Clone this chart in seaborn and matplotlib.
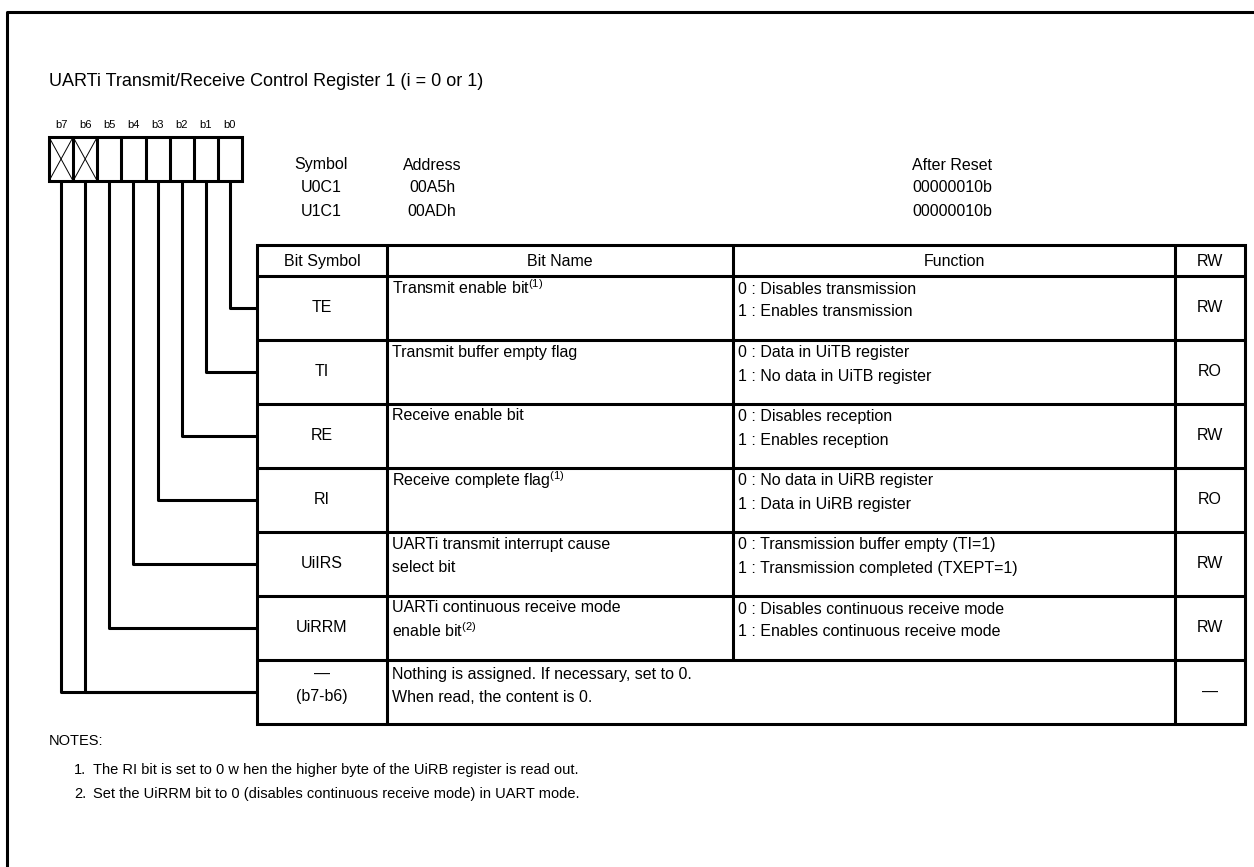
import seaborn as sns
import matplotlib.pyplot as plt

# register data
title = "UARTi Transmit/Receive Control Register 1 (i = 0 or 1)"
bit_labels = ["b7", "b6", "b5", "b4", "b3", "b2", "b1", "b0"]
reserved_bits = ["b7", "b6"]
symbols = ["U0C1", "U1C1"]
addresses = ["00A5h", "00ADh"]
after_reset = ["00000010b", "00000010b"]

header = ["Bit Symbol", "Bit Name", "Function", "RW"]
bit_symbols = ["TE", "TI", "RE", "RI", "UiIRS", "UiRRM"]
bit_names = [
    ["Transmit enable bit$^{\\mathrm{(1)}}$"],
    ["Transmit buffer empty flag"],
    ["Receive enable bit"],
    ["Receive complete flag$^{\\mathrm{(1)}}$"],
    ["UARTi transmit interrupt cause", "select bit"],
    ["UARTi continuous receive mode", "enable bit$^{\\mathrm{(2)}}$"],
]
functions = [
    ["0 : Disables transmission", "1 : Enables transmission"],
    ["0 : Data in UiTB register", "1 : No data in UiTB register"],
    ["0 : Disables reception", "1 : Enables reception"],
    ["0 : No data in UiRB register", "1 : Data in UiRB register"],
    ["0 : Transmission buffer empty (TI=1)", "1 : Transmission completed (TXEPT=1)"],
    ["0 : Disables continuous receive mode", "1 : Enables continuous receive mode"],
]
rw = ["RW", "RO", "RW", "RO", "RW", "RW"]
reserved_symbol = ["\u2014", "(b7-b6)"]
reserved_text = ["Nothing is assigned. If necessary, set to 0.", "When read, the content is 0."]
reserved_rw = "\u2014"
notes = [
    "The RI bit is set to 0 w hen the higher byte of the UiRB register is read out.",
    "Set the UiRRM bit to 0 (disables continuous receive mode) in UART mode.",
]

sns.set_theme(style="white")
plt.rcParams["font.family"] = ["Liberation Sans", "DejaVu Sans"]
plt.rcParams["text.color"] = "black"
plt.rcParams["mathtext.fontset"] = "custom"
plt.rcParams["mathtext.rm"] = "Liberation Sans"
plt.rcParams["mathtext.it"] = "Liberation Sans"

W, H = 1254, 867
fig = plt.figure(figsize=(W / 100, H / 100), dpi=100)
ax = fig.add_axes([0, 0, 1, 1])
ax.set_xlim(0, W)
ax.set_ylim(H, 0)
ax.axis("off")

LW = 2.2
FS = 11.5
k = "black"

# outer frame (top and left only)
ax.plot([7, 7, W], [H, 12, 12], color=k, lw=LW, solid_capstyle="projecting")

ax.text(49, 82, title, fontsize=13, va="center", ha="left")

# bit boxes
bx0, bx1, by0, by1 = 49, 242, 137, 181
cw = (bx1 - bx0) / len(bit_labels)
ax.add_patch(plt.Rectangle((bx0, by0), bx1 - bx0, by1 - by0, fill=False, lw=LW, ec=k))
for i, lab in enumerate(bit_labels):
    x = bx0 + i * cw
    if i > 0:
        ax.plot([x, x], [by0, by1], color=k, lw=LW)
    ax.text(x + cw / 2, 125, lab, fontsize=8, ha="center", va="center")
    if lab in reserved_bits:
        ax.plot([x, x + cw], [by0, by1], color=k, lw=0.7)
        ax.plot([x, x + cw], [by1, by0], color=k, lw=0.7)

# symbol / address / reset
cols_info = [321, 432, 952]
ax.text(cols_info[0], 165, "Symbol", fontsize=FS, ha="center", va="center")
ax.text(cols_info[1], 165, "Address", fontsize=FS, ha="center", va="center")
ax.text(cols_info[2], 165, "After Reset", fontsize=FS, ha="center", va="center")
for j, (s, a, r) in enumerate(zip(symbols, addresses, after_reset)):
    y = 188 + 23 * j
    ax.text(cols_info[0], y, s, fontsize=FS, ha="center", va="center")
    ax.text(cols_info[1], y, a, fontsize=FS, ha="center", va="center")
    ax.text(cols_info[2], y, r, fontsize=FS, ha="center", va="center")

# table
xs = [257, 387, 733, 1175, 1245]
top, hdr = 245, 276
rh = 64
nrows = len(bit_symbols) + 1
bottom = hdr + nrows * rh
ax.add_patch(plt.Rectangle((xs[0], top), xs[-1] - xs[0], bottom - top, fill=False, lw=LW, ec=k))
for x in xs[1:-1]:
    if x == xs[2]:
        # function column merges with bit name in the last row
        ax.plot([x, x], [top, hdr + (nrows - 1) * rh], color=k, lw=LW)
    else:
        ax.plot([x, x], [top, bottom], color=k, lw=LW)
for r in range(nrows):
    y = hdr + r * rh
    ax.plot([xs[0], xs[-1]], [y, y], color=k, lw=LW)

for c, h in enumerate(header):
    ax.text((xs[c] + xs[c + 1]) / 2, (top + hdr) / 2 + 1, h, fontsize=FS, ha="center", va="center")

for r in range(len(bit_symbols)):
    y0 = hdr + r * rh
    yc = y0 + rh / 2
    ax.text((xs[0] + xs[1]) / 2, yc, bit_symbols[r], fontsize=FS, ha="center", va="center")
    for j, line in enumerate(bit_names[r]):
        ax.text(xs[1] + 5, y0 + 12 + 23 * j, line, fontsize=FS, ha="left", va="center")
    for j, line in enumerate(functions[r]):
        ax.text(xs[2] + 5, y0 + 13 + 23 * j, line, fontsize=FS, ha="left", va="center")
    ax.text((xs[3] + xs[4]) / 2, yc, rw[r], fontsize=FS, ha="center", va="center")

y0 = hdr + (nrows - 1) * rh
ax.text((xs[0] + xs[1]) / 2, y0 + 14, reserved_symbol[0], fontsize=FS, ha="center", va="center")
ax.text((xs[0] + xs[1]) / 2, y0 + 37, reserved_symbol[1], fontsize=FS, ha="center", va="center")
for j, line in enumerate(reserved_text):
    ax.text(xs[1] + 5, y0 + 14 + 23 * j, line, fontsize=FS, ha="left", va="center")
ax.text((xs[3] + xs[4]) / 2, y0 + rh / 2, reserved_rw, fontsize=FS, ha="center", va="center")

# connector lines from bits to rows
for i, lab in enumerate(bit_labels):
    x = bx0 + i * cw + cw / 2
    bit = 7 - i
    row = len(bit_symbols) if lab in reserved_bits else bit
    yc = hdr + row * rh + rh / 2
    ax.plot([x, x, xs[0]], [by1, yc, yc], color=k, lw=LW)

# notes
ax.text(49, 741, "NOTES:", fontsize=10.5, ha="left", va="center")
for j, note in enumerate(notes):
    y = 770 + 24 * j
    ax.text(74, y, f"{j + 1}.", fontsize=10.5, ha="left", va="center")
    ax.text(93, y, note, fontsize=10.5, ha="left", va="center")

fig.savefig("out.png", dpi=100)
